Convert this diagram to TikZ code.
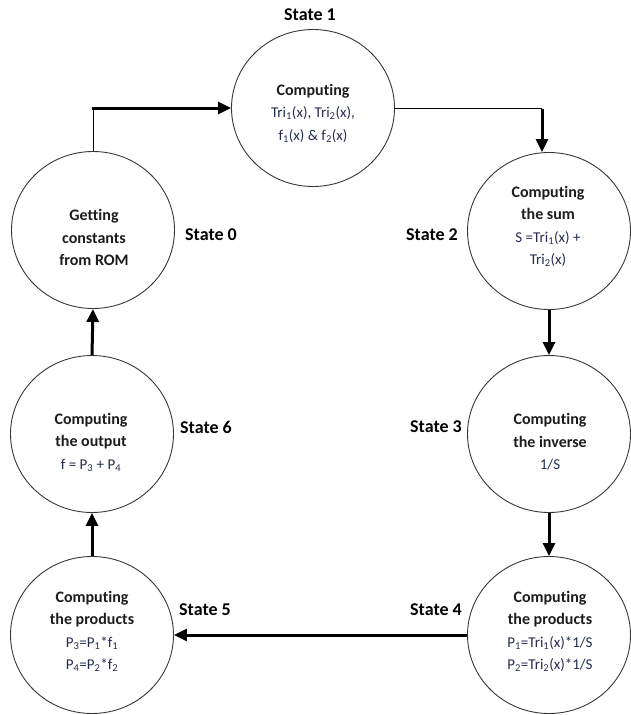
\documentclass[tikz,border=0pt]{standalone}
\usepackage{fontspec}
\setmainfont{Carlito}[Ligatures={NoCommon}]
\usetikzlibrary{shapes.geometric,arrows.meta}
\definecolor{hdcol}{RGB}{28,28,28}
\definecolor{fmcol}{RGB}{36,44,80}
\definecolor{edgecol}{RGB}{55,55,55}
\newcommand{\stHead}[1]{{\fontsize{16}{22.5}\selectfont\bfseries\color{hdcol}#1}}
\newcommand{\sbs}[1]{\textsubscript{#1}}
\begin{document}
\begin{tikzpicture}[x=1pt,y=-1pt,
  stcircle/.style={ellipse,draw=edgecol,line width=0.9pt,minimum width=163pt,minimum height=157pt,inner sep=0pt},
  sttext/.style={align=center,text=fmcol,font=\fontsize{15}{22.5}\selectfont,inner sep=0pt},
  stlabel/.style={font=\fontsize{18}{20}\selectfont\bfseries,text=black,inner sep=0pt},
  thinln/.style={draw=black,line width=1pt},
  thickarr/.style={draw=black,line width=3pt,-{Triangle[length=13pt,width=12pt]}}]
\path[use as bounding box] (0,0) rectangle (631,715);

% circles
\node[stcircle] (s1) at (313,108) {};
\node[stcircle] (s0) at (93,230) {};
\node[stcircle] (s2) at (549,231) {};
\node[stcircle] (s3) at (549,434) {};
\node[stcircle] (s6) at (92,434) {};
\node[stcircle] (s5) at (92,635) {};
\node[stcircle] (s4) at (549,635) {};

% texts
\node[sttext] (t1) at (313,113) {\stHead{Computing}\\Tri\sbs{1}(x), Tri\sbs{2}(x),\\f\sbs{1}(x) \& f\sbs{2}(x)};
\node[sttext] (t0) at (94,237.5) {\stHead{Getting}\\\stHead{constants}\\\stHead{from ROM}};
\node[sttext] (t2) at (548,226.5) {\stHead{Computing}\\\stHead{the sum}\\S =Tri\sbs{1}(x) +\\Tri\sbs{2}(x)};
\node[sttext] (t3) at (550,442) {\stHead{Computing}\\\stHead{the inverse}\\1/S};
\node[sttext] (t6) at (91,442) {\stHead{Computing}\\\stHead{the output}\\f = P\sbs{3} + P\sbs{4}};
\node[sttext] (t5) at (92,631.5) {\stHead{Computing}\\\stHead{the products}\\P\sbs{3}=P\sbs{1}*f\sbs{1}\\P\sbs{4}=P\sbs{2}*f\sbs{2}};
\node[sttext] (t4) at (550,631.5) {\stHead{Computing}\\\stHead{the products}\\P\sbs{1}=Tri\sbs{1}(x)*1/S\\P\sbs{2}=Tri\sbs{2}(x)*1/S};

% state labels
\node[stlabel] (l1) at (310,15) {State 1};
\node[stlabel] (l0) at (211,235) {State 0};
\node[stlabel] (l2) at (432,235) {State 2};
\node[stlabel] (l3) at (436,427) {State 3};
\node[stlabel] (l6) at (206,427) {State 6};
\node[stlabel] (l5) at (205,610) {State 5};
\node[stlabel] (l4) at (436,610) {State 4};

% connectors
\coordinate (c01) at (s0.north |- s1.west);
\draw[thinln] (s0.north) -- (c01);
\draw[thickarr] ([xshift=-1.5pt]c01) -- (s1.west);

\coordinate (c12) at (542,108);
\draw[thinln] (s1.east) -- (c12);
\draw[thickarr] ([yshift=-1pt]c12) -- (c12 |- s2.north);

\draw[thickarr] (s2.south) -- (s3.north);
\draw[thickarr] (s3.south) -- (s4.north);
\draw[thickarr] (s4.west) -- (s5.east);
\draw[thickarr] (s5.north) -- (s6.south);
\draw[thickarr] (s6.north) -- (s0.south);
\end{tikzpicture}
\end{document}
